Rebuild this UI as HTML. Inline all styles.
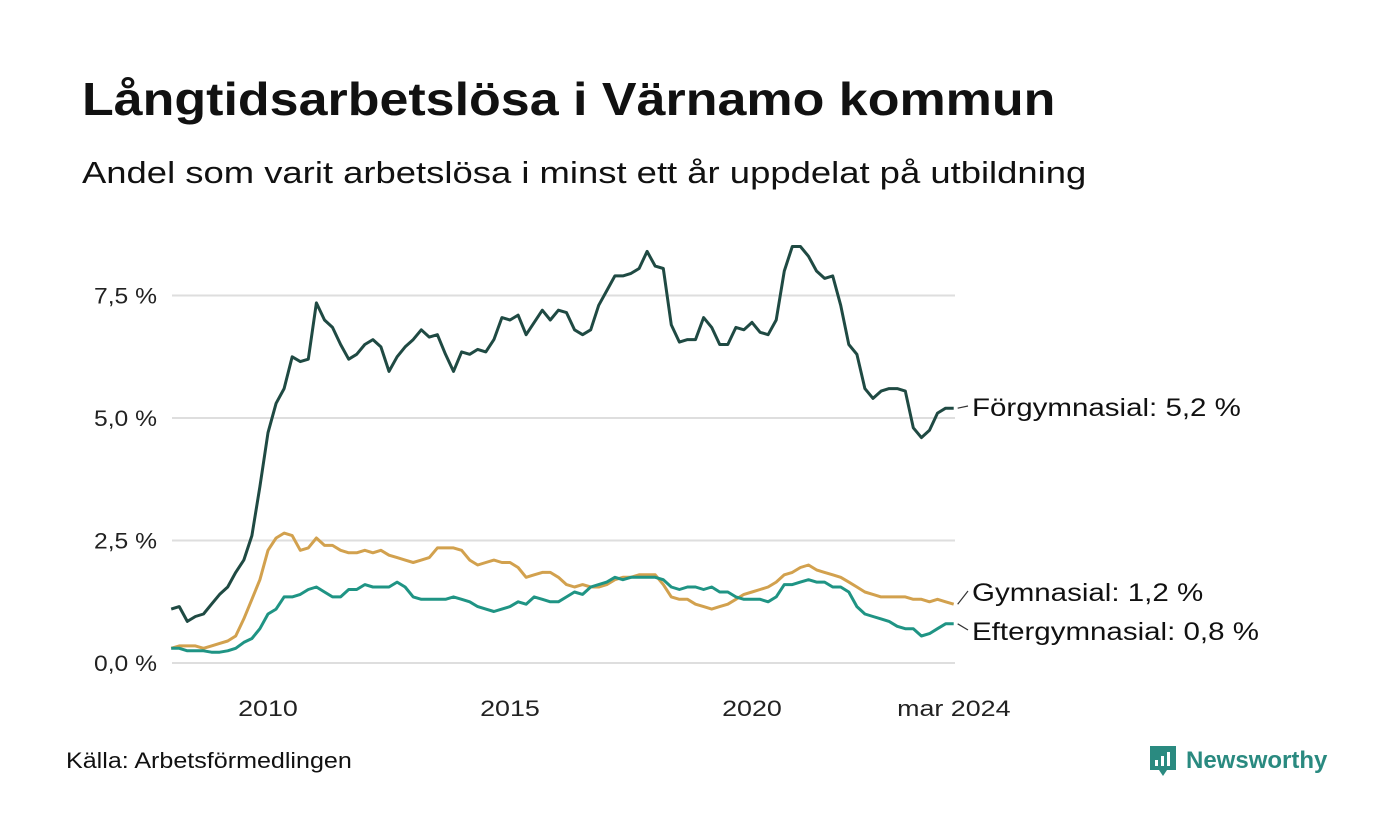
<!DOCTYPE html>
<html><head><meta charset="utf-8">
<style>
body{margin:0;width:1400px;height:840px;background:#fff;font-family:"Liberation Sans","DejaVu Sans",sans-serif;overflow:hidden;position:relative;color:#111}
.sx{transform-origin:left top;white-space:nowrap}
#title{position:absolute;left:82px;top:72px;font-size:46px;font-weight:bold;margin:0;transform:scaleX(1.13)}
#subtitle{position:absolute;left:82px;top:155px;font-size:31px;transform:scaleX(1.175)}
#source{position:absolute;left:66px;top:748px;font-size:22px;transform:scaleX(1.14)}
#logo{position:absolute;left:1148px;top:744px;display:flex;align-items:center;gap:8px;color:#2a8a80;font-size:24px;font-weight:bold}
svg{position:absolute;left:0;top:0}
</style></head><body>
<h1 id="title" class="sx">Långtidsarbetslösa i Värnamo kommun</h1>
<div id="subtitle" class="sx">Andel som varit arbetslösa i minst ett år uppdelat på utbildning</div>
<div id="source" class="sx">Källa: Arbetsförmedlingen</div>
<div id="logo">
<svg width="30" height="34" viewBox="0 0 30 34" style="position:static"><path d="M2 2h26v24H19l-4 6-4-6H2z" fill="#2a8a80"/><rect x="7" y="16" width="3" height="6" fill="#fff"/><rect x="13" y="12" width="3" height="10" fill="#fff"/><rect x="19" y="8" width="3" height="14" fill="#fff"/></svg>
<span>Newsworthy</span></div>
<svg id="chart" width="1400" height="840"></svg>
<script>
const yTicks=[0,2.5,5,7.5];
const yTickLabels=["0,0 %","2,5 %","5,0 %","7,5 %"];
const xTicks=[2010,2015,2020,2024.17];
const xTickLabels=["2010","2015","2020","mar 2024"];
const startYear=2008.0;
const stepYears=1/6;
const forgym=[1.1,1.15,0.85,0.95,1.0,1.2,1.4,1.55,1.85,2.1,2.6,3.6,4.7,5.3,5.6,6.25,6.15,6.2,7.35,7.0,6.85,6.5,6.2,6.3,6.5,6.6,6.45,5.95,6.25,6.45,6.6,6.8,6.65,6.7,6.3,5.95,6.35,6.3,6.4,6.35,6.6,7.05,7.0,7.1,6.7,6.95,7.2,7.0,7.2,7.15,6.8,6.7,6.8,7.3,7.6,7.9,7.9,7.95,8.05,8.4,8.1,8.05,6.9,6.55,6.6,6.6,7.05,6.85,6.5,6.5,6.85,6.8,6.95,6.75,6.7,7.0,8.0,8.5,8.5,8.3,8.0,7.85,7.9,7.3,6.5,6.3,5.6,5.4,5.55,5.6,5.6,5.55,4.8,4.6,4.75,5.1,5.2,5.2];
const gym=[0.3,0.35,0.35,0.35,0.3,0.35,0.4,0.45,0.55,0.9,1.3,1.7,2.3,2.55,2.65,2.6,2.3,2.35,2.55,2.4,2.4,2.3,2.25,2.25,2.3,2.25,2.3,2.2,2.15,2.1,2.05,2.1,2.15,2.35,2.35,2.35,2.3,2.1,2.0,2.05,2.1,2.05,2.05,1.95,1.75,1.8,1.85,1.85,1.75,1.6,1.55,1.6,1.55,1.55,1.6,1.7,1.75,1.75,1.8,1.8,1.8,1.6,1.35,1.3,1.3,1.2,1.15,1.1,1.15,1.2,1.3,1.4,1.45,1.5,1.55,1.65,1.8,1.85,1.95,2.0,1.9,1.85,1.8,1.75,1.65,1.55,1.45,1.4,1.35,1.35,1.35,1.35,1.3,1.3,1.25,1.3,1.25,1.2];
const eftergym=[0.3,0.3,0.25,0.25,0.25,0.22,0.22,0.25,0.3,0.42,0.5,0.7,1.0,1.1,1.35,1.35,1.4,1.5,1.55,1.45,1.35,1.35,1.5,1.5,1.6,1.55,1.55,1.55,1.65,1.55,1.35,1.3,1.3,1.3,1.3,1.35,1.3,1.25,1.15,1.1,1.05,1.1,1.15,1.25,1.2,1.35,1.3,1.25,1.25,1.35,1.45,1.4,1.55,1.6,1.65,1.75,1.7,1.75,1.75,1.75,1.75,1.7,1.55,1.5,1.55,1.55,1.5,1.55,1.45,1.45,1.35,1.3,1.3,1.3,1.25,1.35,1.6,1.6,1.65,1.7,1.65,1.65,1.55,1.55,1.45,1.15,1.0,0.95,0.9,0.85,0.75,0.7,0.7,0.55,0.6,0.7,0.8,0.8];
const seriesNames=["Förgymnasial","Gymnasial","Eftergymnasial"];
const seriesLabels=["Förgymnasial: 5,2 %","Gymnasial: 1,2 %","Eftergymnasial: 0,8 %"];

const X=yr=>268+(yr-2010)*48.4;
const Y=v=>663-v*49;
const NS="http://www.w3.org/2000/svg";
const svg=document.getElementById('chart');
function mk(tag,attrs,parent){const e=document.createElementNS(NS,tag);for(const k in attrs)e.setAttribute(k,attrs[k]);(parent||svg).appendChild(e);return e;}

yTicks.forEach((t,i)=>{
  const g=mk('line',{x1:172,x2:955,y1:Y(t),y2:Y(t),stroke:'#dedede','stroke-width':2});
  
  
  const tx=mk('text',{x:157,y:Y(t)+8,'text-anchor':'end','font-size':22,fill:'#222',textLength:63,lengthAdjust:'spacingAndGlyphs'});
  tx.textContent=yTickLabels[i];
  
  
});
xTicks.forEach((t,i)=>{
  const tx=mk('text',{x:X(t),y:716,'text-anchor':'middle','font-size':22,fill:'#222'});
  tx.textContent=xTickLabels[i];
  
  
  const w=tx.getComputedTextLength()*1.22;
  tx.setAttribute('textLength',w);
  tx.setAttribute('lengthAdjust','spacingAndGlyphs');
});
const all=[forgym,gym,eftergym];
const colors=['#1f4a43','#d2a14e','#1f9484'];
const order=[1,2,0];
order.forEach(s=>{
  const d=all[s].map((v,k)=>(k?'L':'M')+X(startYear+k*stepYears).toFixed(1)+','+Y(v).toFixed(1)).join('');
  const p=mk('path',{d:d,fill:'none',stroke:colors[s],'stroke-width':3,'stroke-linejoin':'round'});
  
  
});
const labelY=[407,592,631];
all.forEach((arr,s)=>{
  const last=arr[arr.length-1];
  const lx=X(startYear+(arr.length-1)*stepYears);
  const ln=mk('line',{x1:lx+4,y1:Y(last),x2:968,y2:labelY[s]-1,stroke:'#333','stroke-width':1.2});
  
  
  const tx=mk('text',{x:972,y:labelY[s]+9,'font-size':25,fill:'#111'});
  tx.textContent=seriesLabels[s];
  
  
  const w=tx.getComputedTextLength()*1.18;
  tx.setAttribute('textLength',w);
  tx.setAttribute('lengthAdjust','spacingAndGlyphs');
});
</script>
</body></html>
